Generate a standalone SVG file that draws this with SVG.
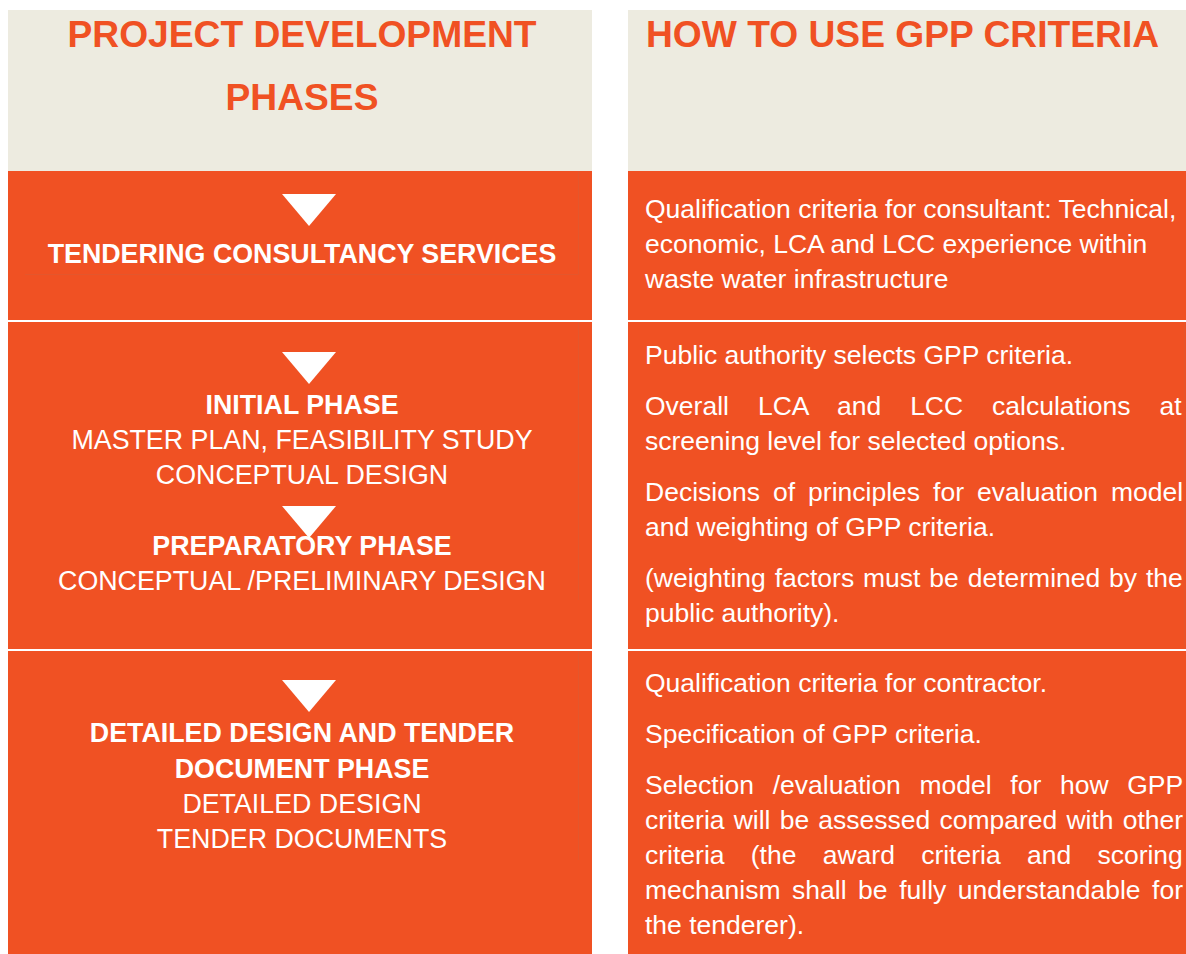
<svg xmlns="http://www.w3.org/2000/svg" width="1186" height="954" viewBox="0 0 1186 954">
  <style>
    .head { fill: #EDEBE0; }
    .cell { fill: #F05123; }
    .title { font-family: "Liberation Sans", Arial, sans-serif; font-weight: bold; font-size: 37.2px; fill: #F05123; }
    .phase { font-family: "Liberation Sans", Arial, sans-serif; font-size: 26.8px; fill: #FFFFFF; text-anchor: middle; }
    .phase.b { font-weight: bold; }
    .body { font-family: "Liberation Sans", Arial, sans-serif; font-size: 26.5px; fill: #FFFFFF; }
    .tri { fill: #FFFFFF; }
    .rule { stroke: #E4562C; stroke-width: 1; fill: none; }
  </style>
  <defs>
    <polygon id="down" class="tri" points="-27,0 27,0 0,32"/>
  </defs>

  <rect x="0" y="0" width="1186" height="954" fill="#FFFFFF"/>

  <!-- column headers -->
  <g id="header-phases">
    <rect class="head" x="8" y="10" width="584" height="161"/>
    <text class="title" x="302" y="47" text-anchor="middle">PROJECT DEVELOPMENT</text>
    <text class="title" x="302" y="110" text-anchor="middle">PHASES</text>
  </g>
  <g id="header-criteria">
    <rect class="head" x="628" y="10" width="558" height="161"/>
    <text class="title" x="646" y="47">HOW TO USE GPP CRITERIA</text>
  </g>

  <!-- phase cells (left column) -->
  <g id="phase-tendering">
    <rect class="cell" x="8" y="171" width="584" height="149"/>
    <path class="rule" d="M25,274.5 H578.5 V171"/>
    <use href="#down" x="309" y="194"/>
    <text class="phase b" x="302" y="263">TENDERING CONSULTANCY SERVICES</text>
  </g>
  <g id="phase-initial">
    <rect class="cell" x="8" y="322" width="584" height="327"/>
    <path class="rule" d="M578.5,322 V600"/>
    <use href="#down" x="309" y="352"/>
    <text class="phase b" x="302" y="414">INITIAL PHASE</text>
    <text class="phase" x="302" y="449">MASTER PLAN, FEASIBILITY STUDY</text>
    <text class="phase" x="302" y="484">CONCEPTUAL DESIGN</text>
    <use href="#down" x="309" y="506"/>
    <text class="phase b" x="302" y="555">PREPARATORY PHASE</text>
    <text class="phase" x="302" y="590">CONCEPTUAL /PRELIMINARY DESIGN</text>
  </g>
  <g id="phase-detailed">
    <rect class="cell" x="8" y="651" width="584" height="303"/>
    <path class="rule" d="M578.5,651 V860"/>
    <use href="#down" x="309" y="680"/>
    <text class="phase b" x="302" y="742">DETAILED DESIGN AND TENDER</text>
    <text class="phase b" x="302" y="778">DOCUMENT PHASE</text>
    <text class="phase" x="302" y="813">DETAILED DESIGN</text>
    <text class="phase" x="302" y="848">TENDER DOCUMENTS</text>
  </g>

  <!-- criteria cells (right column) -->
  <g id="criteria-tendering">
    <rect class="cell" x="628" y="171" width="558" height="149"/>
    <text class="body" x="645" y="218">Qualification criteria for consultant: Technical,</text>
    <text class="body" x="645" y="253">economic, LCA and LCC experience within</text>
    <text class="body" x="645" y="288">waste water infrastructure</text>
  </g>
  <g id="criteria-initial">
    <rect class="cell" x="628" y="322" width="558" height="327"/>
    <path class="rule" d="M1184.5,322 V649"/>
    <text class="body" x="645" y="364">Public authority selects GPP criteria.</text>
    <text class="body" x="645" y="415" word-spacing="21.6">Overall LCA and LCC calculations at</text>
    <text class="body" x="645" y="450">screening level for selected options.</text>
    <text class="body" x="645" y="501" word-spacing="5.7">Decisions of principles for evaluation model</text>
    <text class="body" x="645" y="536">and weighting of GPP criteria.</text>
    <text class="body" x="645" y="587" word-spacing="1.5">(weighting factors must be determined by the</text>
    <text class="body" x="645" y="622">public authority).</text>
  </g>
  <g id="criteria-detailed">
    <rect class="cell" x="628" y="651" width="558" height="303"/>
    <text class="body" x="645" y="692">Qualification criteria for contractor.</text>
    <text class="body" x="645" y="743">Specification of GPP criteria.</text>
    <text class="body" x="645" y="794" word-spacing="11.3">Selection /evaluation model for how GPP</text>
    <text class="body" x="645" y="829" word-spacing="1.8">criteria will be assessed compared with other</text>
    <text class="body" x="645" y="864" word-spacing="18.9">criteria (the award criteria and scoring</text>
    <text class="body" x="645" y="899" word-spacing="4.2">mechanism shall be fully understandable for</text>
    <text class="body" x="645" y="934">the tenderer).</text>
  </g>

  <!-- phase flow arrows are the white triangles in each phase cell -->
  <g id="connectors"></g>
</svg>
